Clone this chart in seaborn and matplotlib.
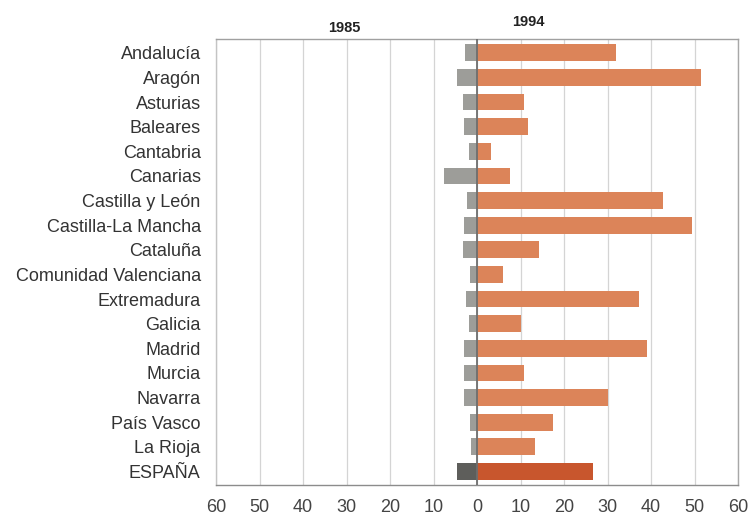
import matplotlib
matplotlib.use("Agg")
import matplotlib.pyplot as plt
import matplotlib.transforms as mtransforms
import pandas as pd
import seaborn as sns

# Regions and their values for the two years (1985 drawn to the left of zero)
regions = [
    "Andalucía", "Aragón", "Asturias", "Baleares", "Cantabria", "Canarias",
    "Castilla y León", "Castilla-La Mancha", "Cataluña", "Comunidad Valenciana",
    "Extremadura", "Galicia", "Madrid", "Murcia", "Navarra", "País Vasco",
    "La Rioja", "ESPAÑA",
]
values_1985 = [2.7, 4.5, 3.3, 2.9, 1.8, 7.5, 2.3, 3.1, 3.3, 1.5,
               2.5, 1.8, 3.1, 3.1, 2.9, 1.5, 1.4, 4.5]
values_1994 = [32.0, 51.6, 10.9, 11.7, 3.2, 7.6, 42.7, 49.4, 14.2, 5.9,
               37.3, 10.0, 39.0, 10.9, 30.2, 17.5, 13.4, 26.7]
year_labels = ["1985", "1994"]
tick_values = [-60, -50, -40, -30, -20, -10, 0, 10, 20, 30, 40, 50, 60]

sns.set_theme(style="white")
plt.rcParams["font.family"] = ["Liberation Sans", "DejaVu Sans"]

fig = plt.figure(figsize=(7.55, 5.17), dpi=100)
ax = fig.add_axes([216 / 755, 1 - 485 / 517, (738 - 216) / 755, (485 - 39) / 517])

df = pd.DataFrame({"region": regions, "v1985": values_1985, "v1994": values_1994})
df["left"] = -df["v1985"]

grey = {r: "#9d9d99" for r in regions}
grey["ESPAÑA"] = "#5e5e5b"
orange = {r: "#dc8459" for r in regions}
orange["ESPAÑA"] = "#c8562d"

common = dict(y="region", hue="region", order=regions, hue_order=regions,
              orient="h", width=0.68, legend=False, saturation=1, ax=ax,
              zorder=2, linewidth=0)
sns.barplot(data=df, x="left", palette=grey, **common)
sns.barplot(data=df, x="v1994", palette=orange, **common)

# zero line between the two years
ax.axvline(0, color="#6e6e6e", lw=1.3, zorder=3)

ax.set_xlim(-60, 60)
ax.set_ylim(len(regions) - 0.45, -0.56)
ax.set_xticks(tick_values)
ax.set_xticklabels([str(abs(v)) for v in tick_values])
ax.xaxis.grid(True, color="#d4d4d4", lw=0.9)
ax.yaxis.grid(False)
ax.set_axisbelow(True)
ax.set_xlabel("")
ax.set_ylabel("")

ax.tick_params(axis="x", length=0, pad=10, labelsize=13, labelcolor="#444444")
ax.tick_params(axis="y", length=0, pad=11, labelsize=13, labelcolor="#333333")

for side, col in [("left", "#c4c4c4"), ("top", "#a0a0a0"),
                  ("right", "#a8a8a8"), ("bottom", "#8c8c8c")]:
    ax.spines[side].set_visible(True)
    ax.spines[side].set_color(col)
    ax.spines[side].set_linewidth(1.0)

# year headings above the plot
trans = mtransforms.blended_transform_factory(ax.transData, ax.transAxes)
ax.text(-30.5, 1.025, year_labels[0], transform=trans, ha="center", va="center",
        fontsize=10.5, fontweight="bold", color="#222222")
ax.text(11.7, 1.038, year_labels[1], transform=trans, ha="center", va="center",
        fontsize=10.5, fontweight="bold", color="#222222")

fig.savefig("out.png", dpi=100, facecolor="white")
